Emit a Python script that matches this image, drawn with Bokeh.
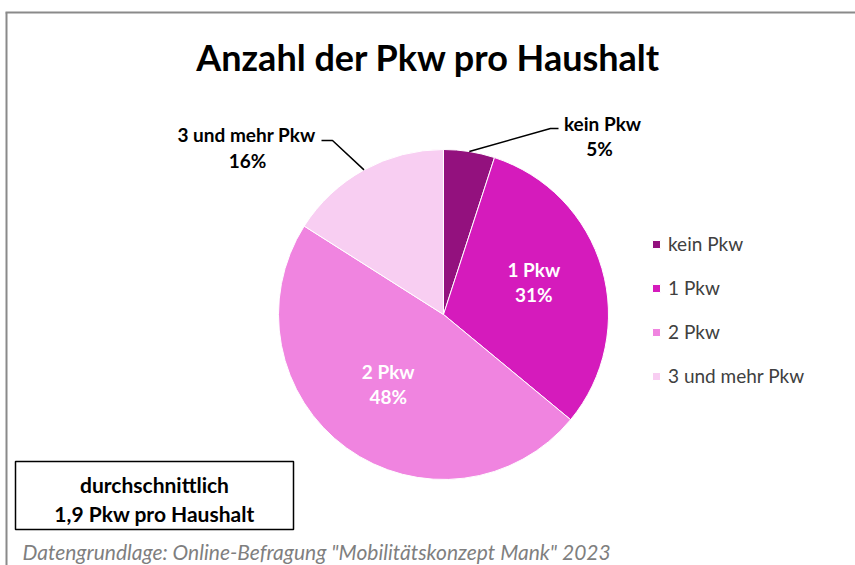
import numpy as np
from bokeh.plotting import figure
from bokeh.models import Range1d, Legend, LegendItem, ColumnDataSource
from bokeh.core.properties import value
from bokeh.embed import file_html
from bokeh.resources import INLINE

# ---- data ----
categories = ["kein Pkw", "1 Pkw", "2 Pkw", "3 und mehr Pkw"]
shares = [5, 31, 48, 16]
colors = ["#93117E", "#D51BBC", "#F084E0", "#F8CEF2"]
title_text = "Anzahl der Pkw pro Haushalt"
average_lines = ["durchschnittlich", "1,9 Pkw pro Haushalt"]
source_note = 'Datengrundlage: Online-Befragung "Mobilitätskonzept Mank" 2023'

FONT = "Lato"
W, H = 855, 565


def X(px):
    return px


def Y(py):
    return H - py


p = figure(width=W, height=H, x_range=Range1d(0, W), y_range=Range1d(0, H),
           output_backend="svg", toolbar_location=None, min_border=0,
           x_axis_type=None, y_axis_type=None)
p.grid.visible = False
p.outline_line_color = None
p.background_fill_color = "white"
p.border_fill_color = "white"

# outer frame (top & left edges visible)
p.line(x=[X(5), W], y=[Y(12), Y(12)], line_color="#8a8a8a", line_width=2)
p.line(x=[X(6), X(6)], y=[0, Y(12)], line_color="#8a8a8a", line_width=2)

# ---- pie ----
cx, cy, R = X(443), Y(314), 165
frac = np.array(shares, dtype=float) / sum(shares)
cum = np.concatenate([[0.0], np.cumsum(frac)])
start = np.pi / 2 - 2 * np.pi * cum[:-1]
end = np.pi / 2 - 2 * np.pi * cum[1:]
mid = (start + end) / 2

src = ColumnDataSource(dict(cat=categories, share=shares, color=colors,
                            start=start, end=end))
r = p.wedge(x=cx, y=cy, radius=R, start_angle="start", end_angle="end",
            direction="clock", fill_color="color", line_color="white",
            line_width=1, source=src)

LBL = "19px"
# inside labels (1 Pkw, 2 Pkw)
in_idx = [1, 2]
ri = 0.57 * R
in_x = [cx + ri * np.cos(mid[i]) for i in in_idx]
in_y = [cy + ri * np.sin(mid[i]) + 7 for i in in_idx]
p.text(x=in_x, y=[v + 12 for v in in_y], text=[categories[i] for i in in_idx],
       text_font=value(FONT), text_font_style="bold", text_font_size=LBL,
       text_color="white", text_align="center", text_baseline="middle")
p.text(x=in_x, y=[v - 13 for v in in_y], text=[f"{shares[i]}%" for i in in_idx],
       text_font=value(FONT), text_font_style="bold", text_font_size=LBL,
       text_color="white", text_align="center", text_baseline="middle")

# outside labels with leader lines
edge = lambda i: (cx + R * np.cos(mid[i]), cy + R * np.sin(mid[i]))
ex0, ey0 = edge(0)
p.line(x=[ex0, X(550), X(558)], y=[ey0, Y(128), Y(128)], line_color="black", line_width=1.5)
ex3, ey3 = edge(3)
p.line(x=[ex3, X(332), X(321)], y=[ey3, Y(140), Y(140)], line_color="black", line_width=1.5)

p.text(x=[X(602), X(246)], y=[Y(123), Y(134)], text=[categories[0], categories[3]],
       text_font=value(FONT), text_font_style="bold", text_font_size=LBL,
       text_color="black", text_align="center", text_baseline="middle")
p.text(x=[X(599), X(247)], y=[Y(148), Y(160)], text=[f"{shares[0]}%", f"{shares[3]}%"],
       text_font=value(FONT), text_font_style="bold", text_font_size=LBL,
       text_color="black", text_align="center", text_baseline="middle")

# ---- title ----
p.text(x=[X(428)], y=[Y(56)], text=[title_text], text_font=value(FONT),
       text_font_style="bold", text_font_size="36px", text_color="black",
       text_align="center", text_baseline="middle")

# ---- average box ----
p.rect(x=X((15 + 293) / 2), y=Y((461 + 529) / 2), width=278, height=68,
       fill_color="white", line_color="black", line_width=1.5)
p.text(x=[X(154), X(154)], y=[Y(484), Y(513)], text=average_lines,
       text_font=value(FONT), text_font_style="bold", text_font_size="21px",
       text_color="black", text_align="center", text_baseline="middle")

# ---- source note ----
p.text(x=[X(22)], y=[Y(551)], text=[source_note], text_font=value(FONT),
       text_font_style="italic", text_font_size="21px", text_color="#7f7f7f",
       text_align="left", text_baseline="middle")

# ---- legend ----
items = [LegendItem(label=c, renderers=[r], index=i) for i, c in enumerate(categories)]
legend = Legend(items=items, location=(X(651), 178), orientation="vertical",
                glyph_width=10, glyph_height=10, label_height=20, spacing=21,
                padding=0, margin=0, border_line_color=None,
                background_fill_alpha=0, label_text_font=FONT,
                label_text_font_size="19px", label_text_color="#404040",
                label_standoff=7)
p.add_layout(legend)

open("out.html", "w").write(file_html(p, INLINE))
